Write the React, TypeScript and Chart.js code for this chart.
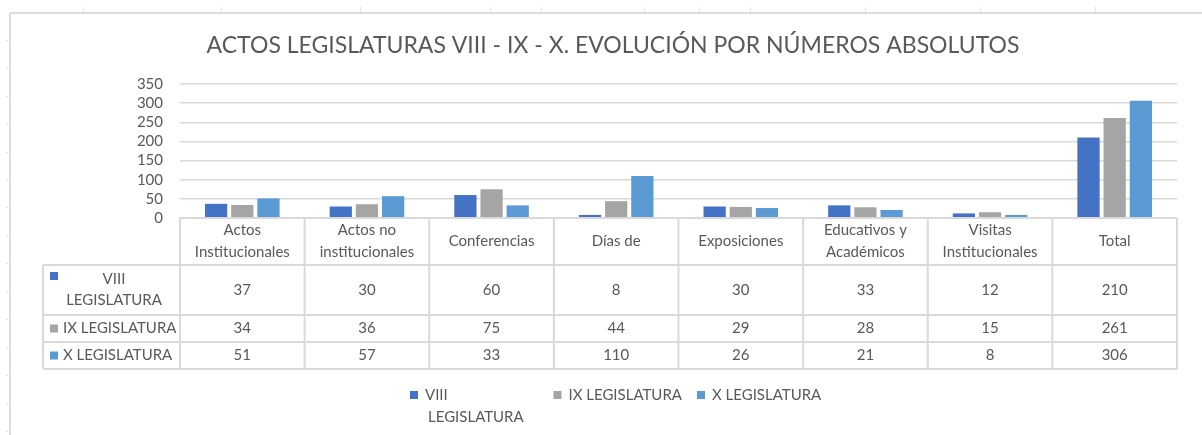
import React, { useEffect, useRef } from "react";
import { Chart, registerables } from "chart.js";

Chart.register(...registerables);

// ---------- data ----------
const categories: string[][] = [
  ["Actos", "Institucionales"],
  ["Actos no", "institucionales"],
  ["Conferencias"],
  ["Días de"],
  ["Exposiciones"],
  ["Educativos y", "Académicos"],
  ["Visitas", "Institucionales"],
  ["Total"],
];
const seriesNames = ["VIII LEGISLATURA", "IX LEGISLATURA", "X LEGISLATURA"];
const legVIII = [37, 30, 60, 8, 30, 33, 12, 210];
const legIX = [34, 36, 75, 44, 29, 28, 15, 261];
const legX = [51, 57, 33, 110, 26, 21, 8, 306];
const yMax = 350;
const yStep = 50;
const seriesColors = ["#4472C4", "#A5A5A5", "#5B9BD5"];
const titleText = "ACTOS LEGISLATURAS VIII - IX - X. EVOLUCIÓN POR NÚMEROS ABSOLUTOS";

// ---------- styles ----------
const FONT = 'Lato, "Open Sans", sans-serif';
const TEXT = "#595959";
const LINE = "#d9d9d9";
const WRAP_WIDTH = 119;

const framePlugin = {
  id: "frame",
  beforeDraw(chart: any) {
    const { ctx, width, height } = chart;
    ctx.save();
    ctx.fillStyle = "#ffffff";
    ctx.fillRect(0, 0, width, height);
    ctx.strokeStyle = "#dcdcdc";
    ctx.lineWidth = 2;
    ctx.beginPath();
    ctx.moveTo(10, 13);
    ctx.lineTo(width, 13);
    ctx.moveTo(10, 13);
    ctx.lineTo(10, height);
    ctx.stroke();
    ctx.lineWidth = 1;
    ctx.strokeStyle = "#e2e2e2";
    ctx.beginPath();
    [83, 221, 360, 490, 541, 644, 699, 750, 865, 980, 1095].forEach((tx) => {
      ctx.moveTo(tx + 0.5, 7);
      ctx.lineTo(tx + 0.5, 12);
    });
    for (let ty = 40; ty < height; ty += 27.9) {
      ctx.moveTo(6, Math.round(ty) + 0.5);
      ctx.lineTo(9, Math.round(ty) + 0.5);
    }
    ctx.stroke();
    // title
    ctx.font = `23px ${FONT}`;
    ctx.fillStyle = TEXT;
    ctx.textAlign = "center";
    ctx.textBaseline = "middle";
    ctx.fillText(titleText, 613, 46);
    ctx.restore();
  },
};

function wrapLabel(ctx: CanvasRenderingContext2D, label: string): string[] {
  if (ctx.measureText(label).width <= WRAP_WIDTH) return [label];
  const i = label.indexOf(" ");
  return [label.slice(0, i), label.slice(i + 1)];
}

const tablePlugin = {
  id: "dataTable",
  afterDraw(chart: any) {
    const { ctx, chartArea } = chart;
    const xScale = chart.scales.x;
    const labels = chart.data.labels as string[][];
    const n = labels.length;
    const colW = (chartArea.right - chartArea.left) / n;
    const left = chartArea.left;
    const right = chartArea.right;
    const tableLeft = 43;
    const rowHeights = [47, 50, 27, 27];
    const rowTops: number[] = [chartArea.bottom];
    rowHeights.forEach((h) => rowTops.push(rowTops[rowTops.length - 1] + h));
    const bottom = rowTops[rowTops.length - 1];

    ctx.save();
    ctx.strokeStyle = LINE;
    ctx.lineWidth = 2;
    ctx.beginPath();
    ctx.moveTo(left, rowTops[0]);
    ctx.lineTo(right, rowTops[0]);
    for (let r = 1; r < rowTops.length; r++) {
      ctx.moveTo(tableLeft, rowTops[r]);
      ctx.lineTo(right, rowTops[r]);
    }
    for (let c = 0; c <= n; c++) {
      const bx = left + c * colW;
      ctx.moveTo(bx, rowTops[0]);
      ctx.lineTo(bx, bottom);
    }
    ctx.moveTo(tableLeft, rowTops[1]);
    ctx.lineTo(tableLeft, bottom);
    ctx.stroke();

    ctx.font = `15px ${FONT}`;
    ctx.fillStyle = TEXT;
    ctx.textAlign = "center";
    ctx.textBaseline = "middle";
    // header
    const hc = (rowTops[0] + rowTops[1]) / 2;
    labels.forEach((lines, i) => {
      const cx = xScale.getPixelForValue(i);
      const lh = 22;
      const y0 = hc - ((lines.length - 1) * lh) / 2;
      lines.forEach((ln, k) => ctx.fillText(ln, cx, y0 + k * lh));
    });
    // values + row headers
    chart.data.datasets.forEach((ds: any, d: number) => {
      const rc = (rowTops[d + 1] + rowTops[d + 2]) / 2;
      ctx.textAlign = "center";
      ds.data.forEach((v: number, i: number) => {
        ctx.fillText(String(v), xScale.getPixelForValue(i), rc);
      });
      const lines = wrapLabel(ctx, ds.label);
      ctx.fillStyle = ds.backgroundColor;
      if (lines.length > 1) {
        const y1 = rc - 11;
        ctx.fillRect(50, y1 - 7, 8, 8);
        ctx.fillStyle = TEXT;
        ctx.fillText(lines[0], 114, y1);
        ctx.fillText(lines[1], 114, y1 + 21);
      } else {
        ctx.fillRect(50, rc - 4, 8, 8);
        ctx.fillStyle = TEXT;
        ctx.textAlign = "left";
        ctx.fillText(lines[0], 63, rc);
      }
      ctx.fillStyle = TEXT;
    });

    // legend
    const ly = 395;
    chart.data.datasets.forEach((ds: any, d: number) => {
      const x0 = 410 + d * 143.5;
      ctx.fillStyle = ds.backgroundColor;
      ctx.fillRect(x0, ly - 4, 8, 8);
      ctx.fillStyle = TEXT;
      ctx.textAlign = "left";
      const lines = wrapLabel(ctx, ds.label);
      ctx.fillText(lines[0], x0 + 15, ly);
      if (lines.length > 1) ctx.fillText(lines[1], x0 + 18, ly + 22);
    });
    ctx.restore();
  },
};

export default function App() {
  const ref = useRef<HTMLCanvasElement | null>(null);
  useEffect(() => {
    document.body.style.margin = "0";
    const canvas = ref.current;
    if (!canvas) return;
    const seriesData = [legVIII, legIX, legX];
    const chart = new Chart(canvas, {
      type: "bar",
      data: {
        labels: categories as any,
        datasets: seriesNames.map((name, i) => ({
          label: name,
          data: seriesData[i],
          backgroundColor: seriesColors[i],
          borderWidth: 0,
          categoryPercentage: 0.63,
          barPercentage: 0.85,
        })),
      },
      options: {
        responsive: false,
        animation: false,
        layout: { padding: { left: 0, right: 25, top: 84, bottom: 217 } },
        plugins: {
          legend: { display: false },
          tooltip: { enabled: false },
          title: { display: false },
        },
        scales: {
          x: { display: false },
          y: {
            min: 0,
            max: yMax,
            afterFit: (scale: any) => {
              scale.width = 180;
            },
            ticks: {
              stepSize: yStep,
              autoSkip: false,
              color: TEXT,
              font: { family: FONT, size: 15 },
              padding: 17,
            },
            grid: { color: LINE, lineWidth: 1.5, drawTicks: false },
            border: { display: false },
          },
        },
      },
      plugins: [framePlugin, tablePlugin],
    });
    return () => chart.destroy();
  }, []);
  return (
    <div style={{ position: "fixed", left: 0, top: 0, width: 1202, height: 435 }}>
      <canvas ref={ref} width={1202} height={435} />
    </div>
  );
}
